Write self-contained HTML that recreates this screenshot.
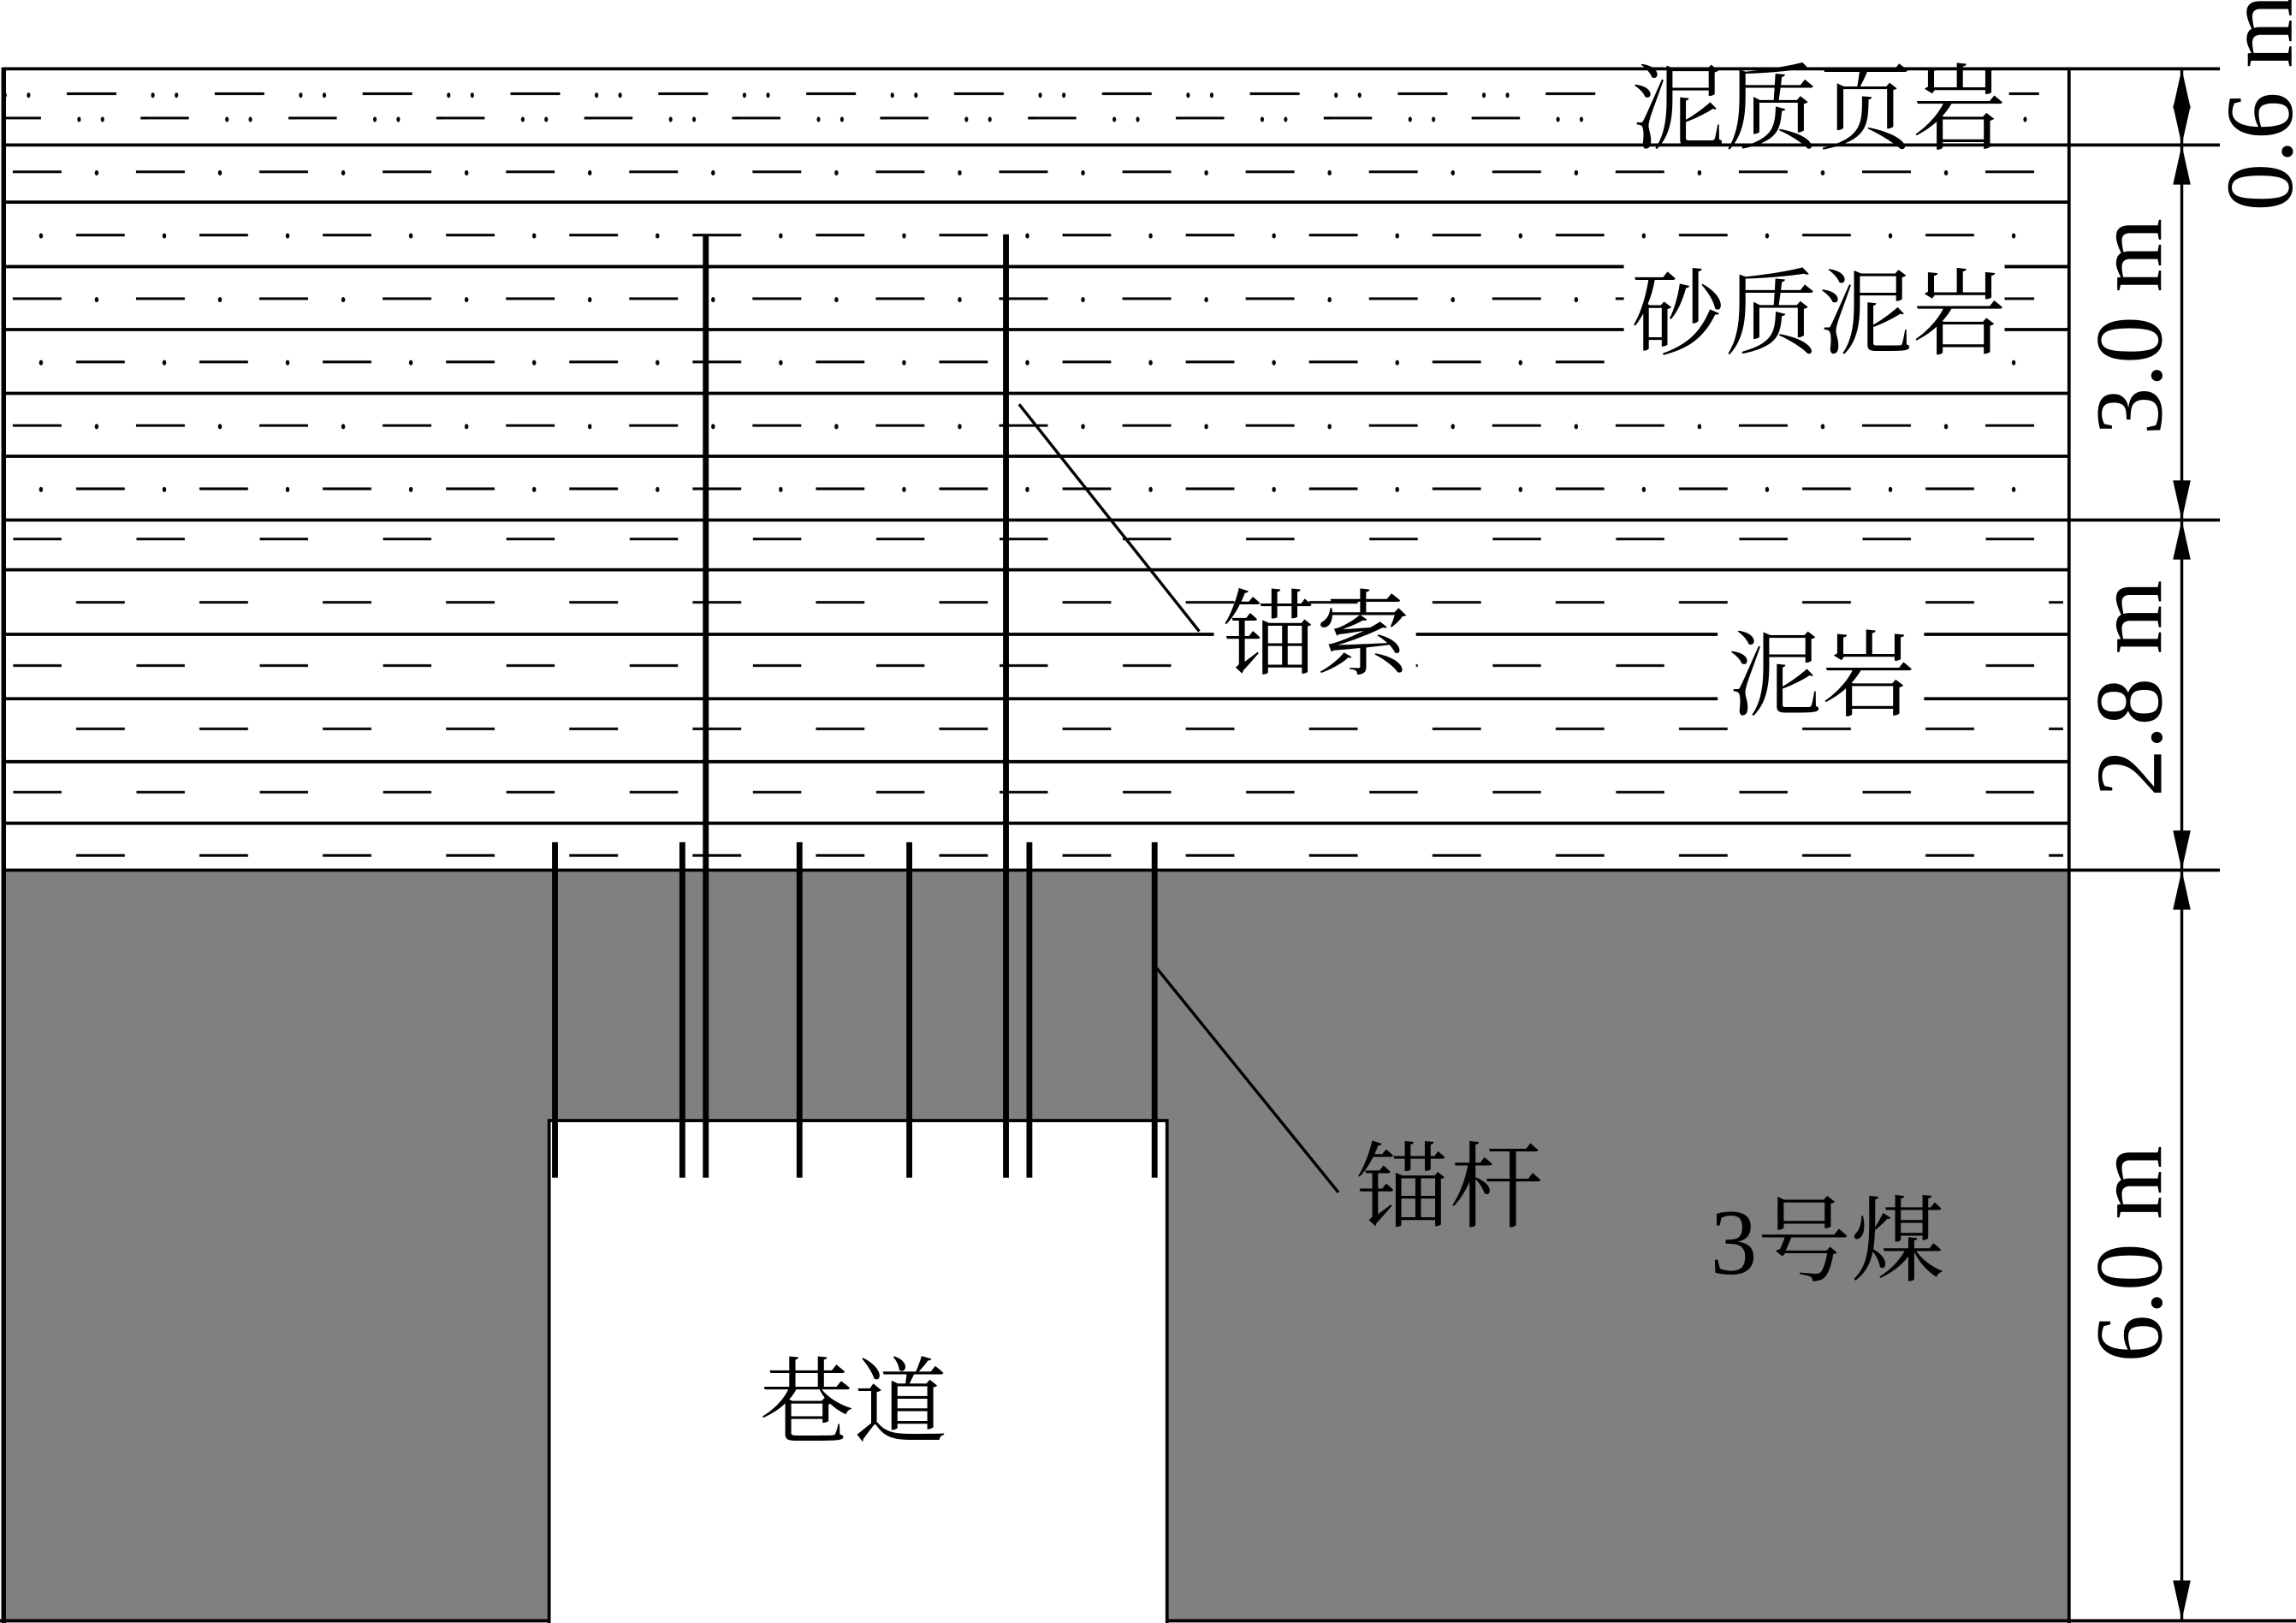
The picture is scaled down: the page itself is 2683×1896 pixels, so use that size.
<!DOCTYPE html>
<html><head><meta charset="utf-8"><style>
html,body{margin:0;padding:0;background:#fff;}
svg{display:block;}
.cj{font-family:"Liberation Serif","Noto Serif CJK SC",serif;font-size:64px;fill:#000;}
.dm{font-family:"Liberation Serif",serif;font-size:65px;fill:#000;}
</style></head><body>
<svg width="2683" height="1896" viewBox="0 0 1568 1108" preserveAspectRatio="none" xmlns="http://www.w3.org/2000/svg">
<defs>
<pattern id="shale" patternUnits="userSpaceOnUse" x="0" y="47" width="101" height="52">
 <g stroke="#000" stroke-width="1.8">
  <line x1="45.6" y1="17" x2="79.5" y2="17"/>
  <line x1="0" y1="33.6" x2="28" y2="33.6"/>
  <line x1="96" y1="33.6" x2="101" y2="33.6"/>
 </g>
 <g fill="#000">
  <ellipse cx="3.4" cy="18" rx="1.2" ry="1.8"/><ellipse cx="19.5" cy="18" rx="1.2" ry="1.8"/>
  <ellipse cx="54" cy="34.5" rx="1.2" ry="1.8"/><ellipse cx="70" cy="34.5" rx="1.2" ry="1.8"/>
 </g>
</pattern>
<pattern id="sandy" patternUnits="userSpaceOnUse" x="0" y="99" width="84.2" height="86.6">
 <g stroke="#000" stroke-width="1.8">
  <line x1="8.7" y1="18.3" x2="42" y2="18.3"/>
  <line x1="52" y1="61.5" x2="84.2" y2="61.5"/>
  <line x1="0" y1="61.5" x2="1" y2="61.5"/>
 </g>
 <g fill="#000">
  <ellipse cx="66" cy="19" rx="1.3" ry="1.8"/>
  <ellipse cx="28" cy="62" rx="1.3" ry="1.8"/>
 </g>
</pattern>
<pattern id="mud" patternUnits="userSpaceOnUse" x="0" y="355" width="84.2" height="86.4">
 <g stroke="#000" stroke-width="1.8">
  <line x1="9" y1="13" x2="42" y2="13"/>
  <line x1="52" y1="56.2" x2="84.2" y2="56.2"/>
  <line x1="0" y1="56.2" x2="1" y2="56.2"/>
 </g>
</pattern>
</defs>
<rect x="0" y="0" width="1568" height="1108" fill="#fff"/>
<rect x="4" y="49" width="1391" height="49" fill="url(#shale)"/>
<rect x="4" y="100" width="1391" height="254" fill="url(#sandy)"/>
<rect x="4" y="356" width="1405" height="237" fill="url(#mud)"/>
<rect x="2" y="594" width="1411" height="512" fill="#808080"/>
<rect x="1105" y="49" width="267" height="49" fill="#fff"/>
<g stroke="#000" stroke-width="2.2">
 <line x1="2" y1="47" x2="1516" y2="47"/>
 <line x1="2" y1="99" x2="1516" y2="99"/>
 <line x1="2" y1="138" x2="1413" y2="138"/>
 <line x1="2" y1="182" x2="1413" y2="182"/>
 <line x1="2" y1="225" x2="1413" y2="225"/>
 <line x1="2" y1="268.5" x2="1413" y2="268.5"/>
 <line x1="2" y1="311.5" x2="1413" y2="311.5"/>
 <line x1="2" y1="355" x2="1516" y2="355"/>
 <line x1="2" y1="389" x2="1413" y2="389"/>
 <line x1="2" y1="433" x2="1413" y2="433"/>
 <line x1="2" y1="477" x2="1413" y2="477"/>
 <line x1="2" y1="520" x2="1413" y2="520"/>
 <line x1="2" y1="562" x2="1413" y2="562"/>
 <line x1="2" y1="594" x2="1516" y2="594"/>
 <line x1="0" y1="1106.5" x2="1568" y2="1106.5"/>
 <line x1="1413" y1="46" x2="1413" y2="1108"/>
</g>
<line x1="2.5" y1="46" x2="2.5" y2="1108" stroke="#000" stroke-width="3.2"/>
<rect x="1109" y="168" width="260" height="85" fill="#fff"/>
<rect x="1173" y="418" width="141" height="72" fill="#fff"/>
<rect x="829" y="416" width="138" height="54" fill="#fff"/>
<rect x="375" y="765" width="422" height="345" fill="#fff" stroke="#000" stroke-width="2.2"/>
<g stroke="#000" stroke-width="4">
 <line x1="379" y1="575" x2="379" y2="804"/>
 <line x1="466" y1="575" x2="466" y2="804"/>
 <line x1="546" y1="575" x2="546" y2="804"/>
 <line x1="621" y1="575" x2="621" y2="804"/>
 <line x1="703" y1="575" x2="703" y2="804"/>
 <line x1="788.5" y1="575" x2="788.5" y2="804"/>
 <line x1="482" y1="160" x2="482" y2="804"/>
 <line x1="687" y1="160" x2="687" y2="804"/>
</g>
<g stroke="#000" stroke-width="2">
 <line x1="696" y1="276" x2="819" y2="431"/>
 <line x1="790" y1="661" x2="914" y2="814"/>
 <line x1="1490" y1="47" x2="1490" y2="1106"/>
</g>
<g fill="#000">
 <polygon points="1490,47 1484,74 1496,74"/>
 <polygon points="1490,99 1484,72 1496,72"/>
 <polygon points="1490,99 1484,126 1496,126"/>
 <polygon points="1490,355 1484,328 1496,328"/>
 <polygon points="1490,355 1484,382 1496,382"/>
 <polygon points="1490,594 1484,567 1496,567"/>
 <polygon points="1490,594 1484,621 1496,621"/>
 <polygon points="1490,1106 1484,1079 1496,1079"/>
</g>
<text class="dm" text-anchor="middle" transform="translate(1565,70) rotate(-90)">0.6 m</text>
<text class="dm" text-anchor="middle" transform="translate(1476,223) rotate(-90)">3.0 m</text>
<text class="dm" text-anchor="middle" transform="translate(1476,470) rotate(-90)">2.8 m</text>
<text class="dm" text-anchor="middle" transform="translate(1476,856) rotate(-90)">6.0 m</text>
<text class="cj" x="1242" y="75" text-anchor="middle" dominant-baseline="central">泥质页岩</text>
<text class="cj" x="1242" y="215" text-anchor="middle" dominant-baseline="central">砂质泥岩</text>
<text class="cj" x="1244" y="462" text-anchor="middle" dominant-baseline="central">泥岩</text>
<text class="cj" x="899" y="434" text-anchor="middle" dominant-baseline="central">锚索</text>
<text class="cj" x="990" y="811" text-anchor="middle" dominant-baseline="central">锚杆</text>
<text class="cj" x="1248" y="848" text-anchor="middle" dominant-baseline="central">3号煤</text>
<text class="cj" x="583" y="958" text-anchor="middle" dominant-baseline="central">巷道</text>
</svg>
</body></html>
